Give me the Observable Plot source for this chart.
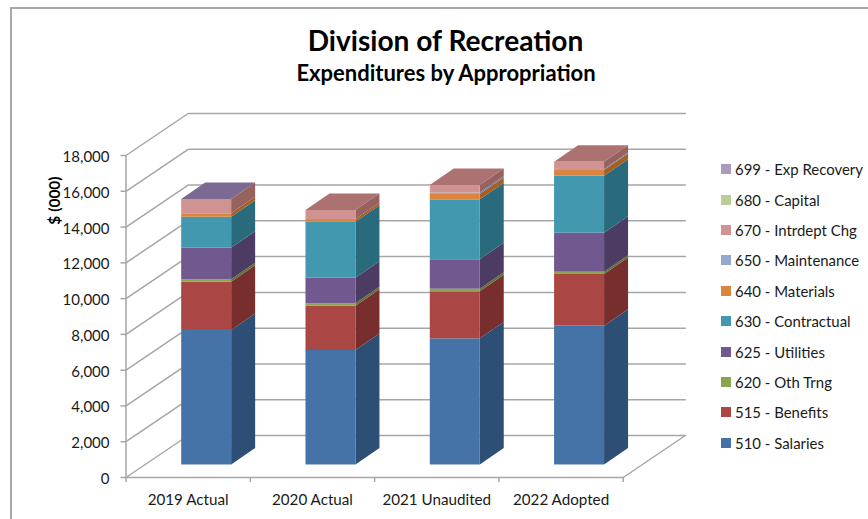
<!DOCTYPE html>
<html>
<head>
<meta charset="utf-8">
<script src="https://cdn.jsdelivr.net/npm/d3@7"></script>
<script src="https://cdn.jsdelivr.net/npm/@observablehq/plot@0.6"></script>
<style>
html,body{margin:0;padding:0;background:#fff;}
#page{position:relative;width:868px;height:519px;overflow:hidden;font-family:Lato,sans-serif;color:#1a1a1a;}
#page svg{position:absolute;left:0;top:0;}
#frame{position:absolute;left:9.5px;top:7px;width:900px;height:600px;border:2px solid #a8a8a8;box-sizing:border-box;}
.t{position:absolute;white-space:nowrap;transform:translateX(-50%);font-weight:700;color:#000;}
#legend{position:absolute;left:721px;top:154px;}
.li{display:flex;align-items:center;height:30.4px;font-size:14.95px;white-space:nowrap;}
.sw{width:10px;height:10px;margin-right:4px;flex:none;}
</style>
</head>
<body>
<div id="page">
<div id="frame"></div>
<div class="t" style="left:445.5px;top:23px;font-size:28.1px;line-height:34px;">Division of Recreation</div>
<div class="t" style="left:446px;top:60px;font-size:22px;line-height:26px;">Expenditures by Appropriation</div>
<div id="legend"></div>
</div>
<script>
const categories = ["2019 Actual","2020 Actual","2021 Unaudited","2022 Adopted"];
const seriesNames = ["510 - Salaries","515 - Benefits","620 - Oth Trng","625 - Utilities","630 - Contractual","640 - Materials","650 - Maintenance","670 - Intrdept Chg","680 - Capital","699 - Exp Recovery"];
const salaries    = [7520, 6400, 7050, 7760];
const benefits    = [2700, 2475, 2630, 2890];
const othTrng     = [130, 135, 146, 127];
const utilities   = [1770, 1430, 1644, 2180];
const contractual = [1730, 3130, 3350, 3188];
const materials   = [190, 150, 300, 315];
const maintenance = [0, 0, 80, 60];
const intrdept    = [800, 506, 420, 405];
const capital     = [0, 0, 0, 0];
const expRecovery = [0, 0, 0, 0];
const seriesValues = [salaries,benefits,othTrng,utilities,contractual,materials,maintenance,intrdept,capital,expRecovery];
const frontColors = ["#4572A7","#AA4643","#89A54E","#71588F","#4198AF","#DB843D","#93A9CF","#D19392","#B9CD96","#A99BBD"];
const sideColors  = ["#2D4E75","#772E2C","#5E7235","#4C3B62","#2A6A7D","#A65E22","#6B7FA3","#96615F","#84966A","#7A6D8C"];
const topColors   = ["#5F86B3","#B86E6C","#9DB56E","#877099","#5FA9BC","#E09A62","#A6B8D8","#AC7272","#C7D8A8","#7B6B92"];
const yTicks = d3.range(0, 18001, 2000);

// projection depth, in the chart's own units
const wallDX = 0.5, wallDY = 2348;          // floor depth
const barDX = 0.149, barDY = 700;           // bars stand this far from the front edge
const sideDX = 0.193, sideDY = 920;         // bar depth
const barW = 0.402;
const barBaseLeft = i => i + 0.5 + barDX - barW/2;

const fronts=[], sides=[], tops=[];
categories.forEach((c,i)=>{
  let acc=0;
  const xl=barBaseLeft(i), xr=xl+barW;
  seriesValues.forEach((vals,s)=>{
    const v=vals[i];
    if(v<=0) return;
    const y1=barDY+acc, y2=barDY+acc+v;
    fronts.push({x1:xl,x2:xr,y1,y2,s});
    const k=`${i}-${s}`;
    sides.push({k,s,x:xr,y1,y2},{k,s,x:xr+sideDX,y1:y1+sideDY,y2:y2+sideDY});
    acc+=v;
  });
  const top=barDY+acc;
  const ts = i===0 ? 9 : 7;
  tops.push({k:i,s:ts,y:top,x1:xl,x2:xr},{k:i,s:ts,y:top+sideDY,x1:xl+sideDX,x2:xr+sideDX});
});

const wall=[];
yTicks.forEach(v=>{
  if(v===0) return;
  wall.push({k:v,x:0,y:v},{k:v,x:wallDX,y:v+wallDY},{k:v,x:4+wallDX,y:v+wallDY});
});
const floor=[{x:0,y:0},{x:wallDX,y:wallDY},{x:4+wallDX,y:wallDY},{x:4,y:0},{x:0,y:0}];
const GRID="#a6a6a6";
const SW=1.5;

const chart=Plot.plot({
  width:868,height:519,
  marginLeft:125.5,marginRight:245.3,marginTop:155,marginBottom:42,
  style:{background:"transparent",fontFamily:"Lato,sans-serif",overflow:"visible"},
  x:{type:"linear",domain:[0,4]},
  y:{type:"linear",domain:[0,18000]},
  marks:[
    Plot.line(wall,{x:"x",y:"y",z:"k",stroke:GRID,strokeWidth:SW}),
    Plot.line(floor,{x:"x",y:"y",stroke:GRID,strokeWidth:SW}),
    Plot.ruleX([0],{y1:0,y2:18000,stroke:GRID,strokeWidth:SW}),
    Plot.axisY({ticks:yTicks,tickSize:5,tickFormat:()=>"",label:null,stroke:GRID,strokeWidth:SW}),
    Plot.axisY({ticks:yTicks,tickSize:0,tickPadding:16.5,dy:1.7,tickFormat:d3.format(","),label:null,fontSize:15,color:"#1a1a1a"}),
    Plot.axisX({ticks:d3.range(0,5),tickSize:5,tickFormat:()=>"",label:null,stroke:GRID,strokeWidth:SW}),
    Plot.axisX({ticks:categories.map((_,i)=>i+0.5),tickSize:0,tickPadding:17,tickFormat:t=>categories[Math.floor(t)],label:null,fontSize:15.2,color:"#1a1a1a"}),
    Plot.areaX(tops,{y:"y",x1:"x1",x2:"x2",z:"k",fill:d=>topColors[d.s],stroke:"none"}),
    Plot.areaY(sides,{x:"x",y1:"y1",y2:"y2",z:"k",fill:d=>sideColors[d.s],stroke:"none"}),
    Plot.rect(fronts,{x1:"x1",x2:"x2",y1:"y1",y2:"y2",fill:d=>frontColors[d.s],stroke:"none"}),
    Plot.text(["$ (000)"],{frameAnchor:"top-left",dx:-71,dy:45,rotate:-90,textAnchor:"middle",lineAnchor:"middle",fontWeight:700,fontSize:15.5,fill:"#000"})
  ]
});
const page=document.getElementById("page");
page.insertBefore(chart,page.firstChild);

const lg=document.getElementById("legend");
seriesNames.slice().reverse().forEach((n)=>{
  const i=seriesNames.indexOf(n);
  const r=document.createElement("div");r.className="li";
  const sw=document.createElement("span");sw.className="sw";sw.style.background=frontColors[i];
  const t=document.createElement("span");t.textContent=n;
  r.append(sw,t);lg.append(r);
});
</script>
</body>
</html>
